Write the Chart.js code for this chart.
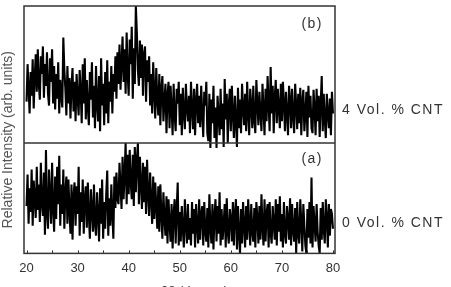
<!DOCTYPE html>
<html>
<head>
<meta charset="utf-8">
<script src="https://cdn.jsdelivr.net/npm/chart.js@4.4.1/dist/chart.umd.min.js"></script>
<style>
  html, body { margin: 0; padding: 0; background: #fff; overflow: hidden; }
  #wrap { position: relative; width: 451px; height: 287px; }
</style>
</head>
<body>
<div id="wrap"><canvas id="xrdChart"></canvas></div>
<script>
// 2-theta sampling of both scans
const twoThetaStart = 20;
const twoThetaStep = 0.2;

// (b) 4 Vol. % CNT, relative intensity (arb. units), one row = 2 degrees
const intensity4 = [
  42, 80, 55, 30, 72, 48, 85, 35, 66, 90,
  52, 95, 60, 44, 88, 70, 98, 46, 80, 58,
  92, 50, 38, 86, 62, 95, 40, 78, 34, 70,
  45, 82, 30, 64, 48, 36, 107, 74, 55, 28,
  78, 40, 66, 25, 58, 76, 32, 62, 22, 70,
  46, 28, 74, 52, 20, 80, 40, 86, 24, 64,
  36, 18, 72, 44, 82, 26, 58, 15, 78, 40,
  22, 68, 12, 86, 38, 60, 18, 72, 30, 84,
  20, 62, 42, 78, 30, 70, 52, 88, 45, 92,
  60, 100, 54, 82, 108, 62, 95, 50, 112, 70,
  48, 105, 80, 118, 45, 96, 60, 139, 112, 74,
  58, 104, 66, 100, 48, 90, 98, 42, 84, 62,
  88, 38, 70, 30, 82, 52, 25, 76, 44, 28,
  70, 18, 55, 68, 22, 42, 60, 10, 48, 62,
  15, 58, 36, 8, 60, 28, 12, 55, 40, 62,
  18, 50, 8, 56, 30, 14, 60, 36, 22, 48,
  10, 62, 34, 14, 55, 8, 42, 60, 20, 48,
  16, 58, 30, 6, 52, 38, 62, 10, 2, 50,
  -5, 44, 20, 58, 5, 36, -5, 48, 28, 8,
  55, 14, 40, -4, 65, 24, 50, 0, 38, 55,
  12, 58, 30, 5, 48, 22, -4, 56, 15, 44,
  10, 60, 36, 18, 50, 12, 62, 30, 8, 55,
  38, 15, 58, 24, 10, 64, 40, 18, 52, 30,
  12, 60, 34, 8, 55, 22, 68, 40, 12, 77,
  30, 58, 10, 46, 64, 20, 55, 36, 15, 60,
  22, 62, 40, 12, 52, 30, 8, 58, 44, 15,
  55, 28, 10, 60, 38, 14, 50, 20, 56, 8,
  42, 54, 12, 30, 52, 6, 58, 26, 48, 15,
  10, 54, 34, 8, 55, 22, 48, 6, 40, 68,
  12, 50, 24, 5, 50, 30, 15, 45, 8, 52,
  30
];

// (a) 0 Vol. % CNT
const intensity0 = [
  48, 80, 30, 66, 42, 85, 28, 74, 55, 36,
  88, 44, 70, 32, 92, 50, 38, 82, 19, 105,
  40, 25, 85, 58, 30, 92, 46, 22, 78, 35,
  88, 50, 99, 28, 70, 40, 85, 25, 62, 78,
  30, 75, 44, 20, 70, 14, 58, 72, 28, 68,
  40, 88, 18, 62, 32, 75, 20, 56, 68, 26,
  72, 38, 15, 65, 44, 22, 70, 30, 18, 62,
  40, 12, 66, 30, 75, 15, 52, 25, 60, 84,
  18, 56, 28, 70, 40, 15, 78, 46, 82, 55,
  50, 92, 68, 45, 98, 55, 80, 112, 50, 100,
  60, 105, 72, 55, 100, 48, 108, 62, 95, 112,
  50, 98, 70, 45, 92, 52, 88, 40, 95, 60,
  38, 82, 54, 30, 78, 35, 72, 48, 25, 68,
  22, 70, 40, 15, 62, 35, 18, 58, 10, 55,
  30, 12, 50, 5, 40, 55, 10, 45, 72, 8,
  42, 12, 48, 25, 6, 55, 30, 10, 50, 14,
  36, 8, 52, 20, 45, 6, 50, 28, 10, 55,
  14, 40, 48, 8, 52, 22, 12, 46, 6, 60,
  26, 10, 50, 4, 38, 55, 12, 48, 20, 62,
  8, 45, 14, 30, 50, 6, 56, 22, 10, 45,
  35, 12, 52, 8, 40, 55, 4, 48, 20, 0,
  45, 10, 52, 28, 6, 48, 14, 55, 30, 8,
  50, 22, 12, 46, 6, 52, 36, 10, 48, 14,
  60, 26, 8, 55, 12, 40, 50, 6, 52, 20,
  10, 48, 30, 14, 55, 8, 50, 22, 58, 12,
  40, 6, 52, 20, 10, 48, 34, 14, 56, 8,
  50, 24, 12, 46, 0, 52, 20, 10, 55, 32,
  2, 50, 28, 8, 0, 45, 16, 52, 10, 77,
  6, 48, 30, 12, 50, 22, 8, 0, 46, 14,
  52, 24, 10, 55, 36, 6, 50, 18, 45, 40,
  25
];

const seriesNames = ['4 Vol. % CNT', '0 Vol. % CNT'];
const panelTags = ['(b)', '(a)'];
const xTickLabels = ['20', '30', '40', '50', '60', '70', '80'];
const xTitle = '2\u03b8 (degree)';
const yTitle = 'Relative Intensity (arb. units)';

const toPoints = (arr) => arr.map((v, i) => ({ x: twoThetaStart + i * twoThetaStep, y: v }));

// frame, divider, inward ticks and the text annotations
const decorations = {
  id: 'decorations',
  afterDraw(chart) {
    const { ctx, chartArea: a, scales } = chart;
    const xs = scales.x;
    const divY = scales.yA.getPixelForValue(112);
    ctx.save();
    ctx.strokeStyle = '#333';
    ctx.lineWidth = 1.5;
    ctx.strokeRect(a.left, a.top, a.right - a.left, a.bottom - a.top);
    ctx.beginPath();
    ctx.moveTo(a.left, divY);
    ctx.lineTo(a.right, divY);
    ctx.stroke();

    ctx.lineWidth = 1;
    xs.ticks.forEach((t) => {
      const px = Math.round(xs.getPixelForValue(t.value)) + 0.5;
      ctx.beginPath();
      ctx.moveTo(px, a.bottom);
      ctx.lineTo(px, a.bottom - 3);
      ctx.stroke();
    });

    ctx.fillStyle = '#333';
    ctx.font = '14px "Liberation Sans", Arial, sans-serif';
    ctx.letterSpacing = '1.5px';
    ctx.textBaseline = 'middle';
    ctx.textAlign = 'left';
    ctx.fillText(seriesNames[0], a.right + 7, scales.yB.getPixelForValue(33));
    ctx.fillText(seriesNames[1], a.right + 7, scales.yA.getPixelForValue(31));

    ctx.textAlign = 'right';
    ctx.fillText(panelTags[0], a.right - 12, scales.yB.getPixelForValue(121));
    ctx.fillText(panelTags[1], a.right - 12, scales.yA.getPixelForValue(96));

    // axis title sits mostly below the visible area, as in the source figure
    ctx.letterSpacing = '0px';
    ctx.textAlign = 'center';
    ctx.textBaseline = 'top';
    ctx.font = '13px "Liberation Sans", Arial, sans-serif';
    ctx.fillText(xTitle, (a.left + a.right) / 2 + 15, 284.5);

    ctx.fillStyle = '#555';
    ctx.font = '14px "Liberation Sans", Arial, sans-serif';
    ctx.textBaseline = 'middle';
    ctx.translate(8, (a.top + a.bottom) / 2 + 10);
    ctx.rotate(-Math.PI / 2);
    ctx.fillText(yTitle, 0, 0);
    ctx.restore();
  }
};

function initChart() {
  const canvas = document.getElementById('xrdChart');
  const ctx = canvas.getContext('2d');

  new Chart(ctx, {
    type: 'line',
    data: {
      datasets: [
        {
          label: seriesNames[0],
          data: toPoints(intensity4),
          yAxisID: 'yB',
          borderColor: '#000',
          borderWidth: 2.1,
          borderJoinStyle: 'bevel',
          pointRadius: 0,
          tension: 0,
          fill: false
        },
        {
          label: seriesNames[1],
          data: toPoints(intensity0),
          yAxisID: 'yA',
          borderColor: '#000',
          borderWidth: 2.1,
          borderJoinStyle: 'bevel',
          pointRadius: 0,
          tension: 0,
          fill: false
        }
      ]
    },
    options: {
      responsive: true,
      maintainAspectRatio: false,
      animation: false,
      layout: { padding: { left: 24, right: 116, top: 6, bottom: 4 } },
      plugins: {
        legend: { display: false },
        tooltip: { enabled: false }
      },
      scales: {
        x: {
          type: 'linear',
          min: 19.5,
          max: 80.4,
          grid: { display: false, drawTicks: false },
          border: { display: false },
          ticks: {
            stepSize: 5,
            includeBounds: false,
            autoSkip: false,
            maxRotation: 0,
            padding: 7,
            color: '#333',
            font: { family: '"Liberation Sans", Arial, sans-serif', size: 13 },
            callback: (v) => (xTickLabels.includes(String(v)) ? String(v) : '')
          }
        },
        // bottom panel occupies values 0..112, top panel -112..139
        yA: { display: false, min: 0, max: 251 },
        yB: { display: false, min: -112, max: 139 }
      }
    },
    plugins: [decorations]
  });
}

if (document.readyState === 'loading') {
  document.addEventListener('DOMContentLoaded', initChart);
} else {
  initChart();
}
</script>
</body>
</html>
